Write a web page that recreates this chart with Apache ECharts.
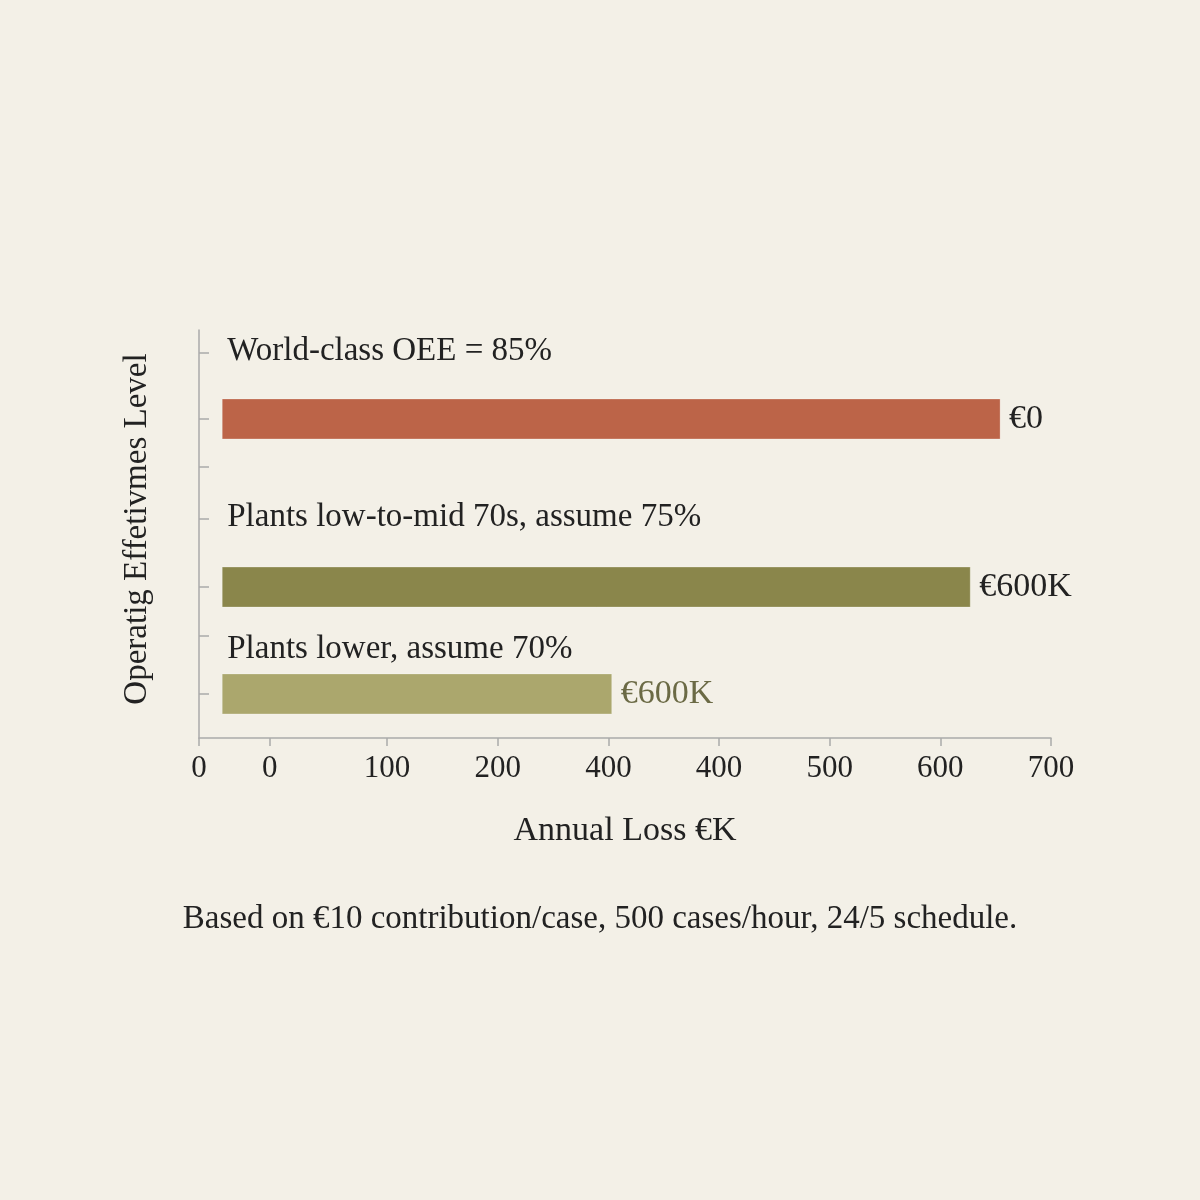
<!DOCTYPE html>
<html>
<head>
<meta charset="utf-8">
<title>Annual Loss by Operating Effectiveness Level</title>
<script src="https://cdn.jsdelivr.net/npm/echarts@6/dist/echarts.min.js"></script>
<style>
    html, body { margin: 0; padding: 0; background: #f3f0e7; }
    #chart { width: 1200px; height: 1200px; }
</style>
</head>
<body>
<div id="chart"></div>
<script>
    // data
    const levels = ['World-class OEE = 85%', 'Plants low-to-mid 70s, assume 75%', 'Plants lower, assume 70%'];
    const lossValues = [654, 627, 303];
    const valueLabels = ['€0', '€600K', '€600K'];
    const xTickValues = [-70, -6, 100, 200, 300, 400, 500, 600, 700];
    const xTickLabels = ['0', '0', '100', '200', '400', '400', '500', '600', '700'];

    // layout (rows are in % of plot height, from the top)
    const barStart = -49;
    const barRows = [21.8, 63.0, 89.2];
    const labelRows = [5.2, 46.0, 78.3];
    const yTickRows = [5.6, 21.8, 33.6, 46.3, 63.0, 75.0, 89.2];
    const barColors = ['#bc6448', '#8a864b', '#aba76d'];
    const valueColors = ['#222222', '#222222', '#6b6a45'];

    const serif = "'Liberation Serif', 'DejaVu Serif', serif";

    let chart = echarts.init(document.getElementById('chart'));
    let option = {
        backgroundColor: '#f3f0e7',
        animation: false,
        textStyle: { fontFamily: serif },
        grid: { left: 199, right: 149, top: 330, bottom: 462 },
        xAxis: {
            type: 'value',
            min: -70,
            max: 700,
            name: 'Annual Loss €K',
            nameLocation: 'middle',
            nameGap: 76,
            nameTextStyle: { fontFamily: serif, fontSize: 34, color: '#222' },
            axisLine: { show: true, onZero: false, lineStyle: { color: '#aaaaaa', width: 1.5 } },
            axisTick: { show: true, length: 8, customValues: xTickValues, lineStyle: { color: '#aaaaaa', width: 1.5 } },
            axisLabel: {
                customValues: xTickValues,
                margin: 15,
                fontFamily: serif,
                fontSize: 31,
                color: '#222',
                formatter: function (v) {
                    let i = xTickValues.indexOf(v);
                    return i >= 0 ? xTickLabels[i] : '';
                }
            },
            splitLine: { show: false }
        },
        yAxis: {
            type: 'value',
            inverse: true,
            min: 0,
            max: 100,
            name: 'Operatig Effetivmes Level',
            nameLocation: 'middle',
            nameGap: 45,
            nameRotate: 90,
            nameTextStyle: { fontFamily: serif, fontSize: 33, color: '#222', padding: [0, 0, 0, 10] },
            axisLine: { show: true, onZero: false, lineStyle: { color: '#aaaaaa', width: 1.5 } },
            axisTick: { show: true, inside: true, length: 10, customValues: yTickRows, lineStyle: { color: '#aaaaaa', width: 1.5 } },
            axisLabel: { show: false },
            splitLine: { show: false }
        },
        series: [{
            type: 'custom',
            coordinateSystem: 'cartesian2d',
            encode: { x: 0, y: 1 },
            data: lossValues.map(function (v, i) { return [v, i]; }),
            renderItem: function (params, api) {
                let i = api.value(1);
                let start = api.coord([barStart, barRows[i]]);
                let end = api.coord([api.value(0), barRows[i]]);
                let labelPos = api.coord([barStart, labelRows[i]]);
                return {
                    type: 'group',
                    children: [
                        {
                            type: 'rect',
                            shape: { x: start[0], y: start[1] - 20, width: end[0] - start[0], height: 40 },
                            style: { fill: barColors[i], stroke: 'rgba(255,255,255,0.25)', lineWidth: 1 }
                        },
                        {
                            type: 'text',
                            style: {
                                x: end[0] + 9, y: end[1],
                                text: valueLabels[i],
                                fill: valueColors[i],
                                font: '34px ' + serif,
                                verticalAlign: 'middle', align: 'left'
                            }
                        },
                        {
                            type: 'text',
                            style: {
                                x: labelPos[0] + 5, y: labelPos[1],
                                text: levels[i],
                                fill: '#222',
                                font: '33px ' + serif,
                                verticalAlign: 'middle', align: 'left'
                            }
                        }
                    ]
                };
            }
        }],
        graphic: [{
            type: 'text',
            left: 'center',
            top: 903,
            style: {
                text: 'Based on €10 contribution/case, 500 cases/hour, 24/5 schedule.',
                fill: '#222',
                font: '33px ' + serif
            }
        }]
    };
    chart.setOption(option);
    window.addEventListener('resize', function () {
        chart.resize();
    });
</script>
</body>
</html>
